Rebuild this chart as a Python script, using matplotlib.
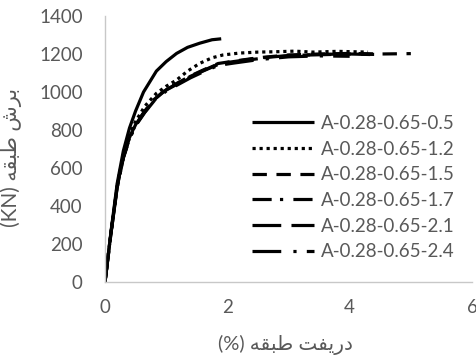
import matplotlib
matplotlib.use("Agg")
import matplotlib.pyplot as plt

plt.rcParams['font.family'] = ['Lato', 'DejaVu Sans']

# ---- data ----
labels = ["A-0.28-0.65-0.5", "A-0.28-0.65-1.2", "A-0.28-0.65-1.5",
          "A-0.28-0.65-1.7", "A-0.28-0.65-2.1", "A-0.28-0.65-2.4"]

x_05 = [0, 0.1, 0.2, 0.3, 0.4, 0.5, 0.63, 0.84, 1.0, 1.17, 1.35, 1.55, 1.75, 1.9]
y_05 = [0, 270, 520, 690, 810, 900, 1000, 1110, 1160, 1203, 1235, 1257, 1275, 1280]

x_12 = [0, 0.1, 0.2, 0.3, 0.4, 0.5, 0.65, 0.84, 1.0, 1.17, 1.35, 1.55, 1.75, 1.93,
        2.2, 2.5, 2.8, 3.1, 3.4, 3.8, 4.3]
y_12 = [0, 265, 510, 670, 775, 845, 925, 993, 1030, 1063, 1110, 1151, 1180, 1195,
        1205, 1210, 1212, 1215, 1210, 1214, 1210]

x_15 = [0, 0.1, 0.2, 0.3, 0.4, 0.5, 0.65, 0.8, 1.0, 1.2, 1.4, 1.6, 1.85, 2.1,
        2.5, 3.0, 3.5, 4.0, 4.5, 5.0]
y_15 = [0, 265, 505, 660, 760, 830, 900, 960, 1015, 1050, 1085, 1115, 1150, 1162,
        1180, 1195, 1200, 1203, 1200, 1202]

x_17 = [0, 0.1, 0.2, 0.3, 0.4, 0.5, 0.65, 0.8, 1.0, 1.2, 1.4, 1.6, 1.85, 2.1,
        2.5, 3.0, 3.5, 4.0, 4.4]
y_17 = [0, 262, 500, 655, 755, 825, 895, 955, 1010, 1045, 1080, 1110, 1145, 1158,
        1175, 1190, 1198, 1200, 1198]

x_21 = [0, 0.1, 0.2, 0.3, 0.4, 0.5, 0.65, 0.8, 1.0, 1.2, 1.4, 1.6, 1.85, 2.1,
        2.5, 3.0, 3.5, 4.0, 4.5]
y_21 = [0, 263, 502, 658, 758, 828, 898, 958, 1012, 1048, 1083, 1112, 1148, 1160,
        1178, 1192, 1196, 1200, 1196]

x_24 = [0, 0.1, 0.2, 0.3, 0.4, 0.5, 0.65, 0.8, 1.0, 1.2, 1.4, 1.6, 1.85, 2.1,
        2.5, 3.0, 3.5, 4.0]
y_24 = [0, 260, 498, 652, 752, 822, 892, 952, 1005, 1040, 1075, 1105, 1140, 1152,
        1170, 1185, 1190, 1188]

x_ticks = [0, 2, 4, 6]
y_ticks = [0, 200, 400, 600, 800, 1000, 1200, 1400]

xlabel = "(%) " + "\uFEEA\uFED8\uFE92\uFEC3 \uFE96\uFED4\uFBFE\uFEAD\uFEA9"
ylabel = "(KN) " + "\uFEEA\uFED8\uFE92\uFEC3 \uFEB5\uFEAE\uFE91"

# ---- plot ----
W, H = 476, 361
fig = plt.figure(figsize=(W / 100, H / 100), dpi=100)
ax = fig.add_axes([105 / W, 79 / H, 367 / W, 266 / H])

lw = 2.3
styles = [
    dict(linestyle='-'),
    dict(linestyle=(0, (1.0, 1.2))),
    dict(linestyle=(0, (4.5, 3.0))),
    dict(linestyle=(0, (6.0, 2.6, 1.0, 3.2))),
    dict(linestyle=(0, (9.0, 3.2))),
    dict(linestyle=(0, (9.0, 3.8, 1.0, 3.2))),
]
series = [(x_05, y_05), (x_12, y_12), (x_15, y_15), (x_17, y_17), (x_21, y_21), (x_24, y_24)]
for (xs, ys), st, lab in zip(series, styles, labels):
    ax.plot(xs, ys, color='black', lw=lw, label=lab, dash_capstyle='butt',
            solid_capstyle='butt', **st)

ax.set_xlim(0, 6)
ax.set_ylim(0, 1400)
ax.set_xticks(x_ticks)
ax.set_yticks(y_ticks)
for s in ['top', 'right']:
    ax.spines[s].set_visible(False)
for s in ['left', 'bottom']:
    ax.spines[s].set_color('#c8c8c8')
    ax.spines[s].set_linewidth(1.0)
ax.tick_params(length=0, labelsize=13.5, labelcolor='#595959')
ax.tick_params(axis='y', pad=16)
ax.tick_params(axis='x', pad=12)

fig.text(286 / W, 1 - 345 / H, xlabel, ha='center', va='center', fontsize=14.5,
         color='#595959', family=['Lato', 'DejaVu Sans'])
fig.text(11 / W, 1 - 157 / H, ylabel, ha='center', va='center', rotation=90,
         fontsize=15, color='#595959', family=['Lato', 'DejaVu Sans'])

leg = ax.legend(loc='upper left', bbox_to_anchor=(252 / W, 1 - 115 / H),
                bbox_transform=fig.transFigure, frameon=False, fontsize=13.5,
                borderpad=0, borderaxespad=0, handlelength=3.3, handletextpad=0.4,
                labelspacing=0.46, labelcolor='#595959')

fig.savefig('out.png', dpi=100)
